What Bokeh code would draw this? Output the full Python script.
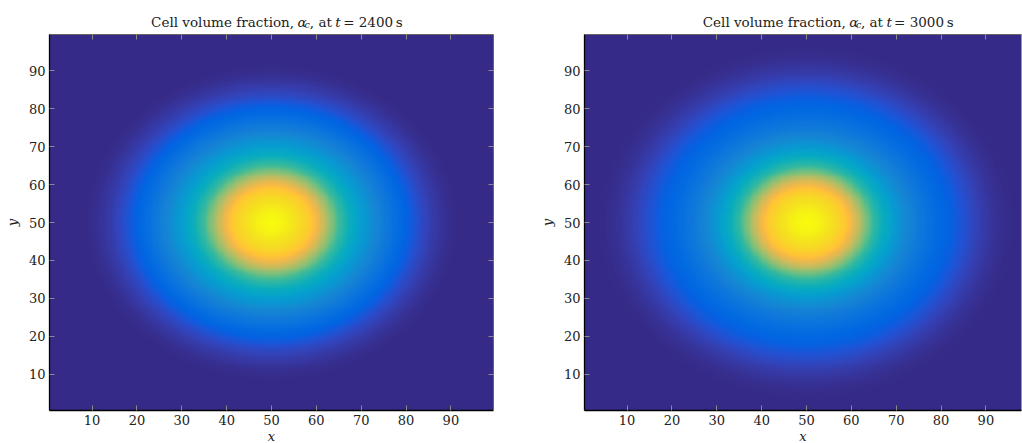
import numpy as np
from bokeh.plotting import figure
from bokeh.layouts import row, column
from bokeh.models import LinearColorMapper, FixedTicker, LinearAxis, Range1d
from bokeh.core.properties import value
from bokeh.embed import file_html
from bokeh.resources import INLINE

# Radial profiles of the cell volume fraction about the centre (50, 50)
radius = [0, 3.5, 6.5, 9, 11, 13, 15, 17.5, 20, 22.5, 25, 30, 33, 36, 39, 42, 45, 48, 75]
alpha_2400 = [1.0, 0.975, 0.925, 0.865, 0.77, 0.64, 0.52, 0.42, 0.34, 0.28, 0.22, 0.13,
              0.085, 0.045, 0.015, 0.0, 0.0, 0.0, 0.0]
alpha_3000 = [1.0, 0.975, 0.925, 0.86, 0.76, 0.62, 0.5, 0.4, 0.32, 0.26, 0.21, 0.145,
              0.115, 0.085, 0.05, 0.022, 0.006, 0.0, 0.0]
times = [2400, 3000]
centre = (50.0, 50.0)
tick_values = [10, 20, 30, 40, 50, 60, 70, 80, 90]

# parula colormap (64 entries), expanded to 256 colours
parula64 = np.array([
    [0.2081, 0.1663, 0.5292], [0.2116, 0.1898, 0.5777], [0.2123, 0.2138, 0.6270],
    [0.2081, 0.2386, 0.6771], [0.1959, 0.2645, 0.7279], [0.1707, 0.2919, 0.7792],
    [0.1253, 0.3242, 0.8303], [0.0591, 0.3598, 0.8683], [0.0117, 0.3875, 0.8820],
    [0.0060, 0.4086, 0.8828], [0.0165, 0.4266, 0.8786], [0.0329, 0.4430, 0.8720],
    [0.0498, 0.4586, 0.8641], [0.0629, 0.4737, 0.8554], [0.0723, 0.4887, 0.8467],
    [0.0779, 0.5040, 0.8384], [0.0793, 0.5200, 0.8312], [0.0749, 0.5375, 0.8263],
    [0.0641, 0.5570, 0.8240], [0.0488, 0.5772, 0.8228], [0.0343, 0.5966, 0.8199],
    [0.0265, 0.6137, 0.8135], [0.0239, 0.6287, 0.8038], [0.0231, 0.6418, 0.7913],
    [0.0228, 0.6535, 0.7768], [0.0267, 0.6642, 0.7607], [0.0384, 0.6743, 0.7436],
    [0.0590, 0.6838, 0.7254], [0.0843, 0.6928, 0.7062], [0.1133, 0.7015, 0.6859],
    [0.1453, 0.7098, 0.6646], [0.1801, 0.7177, 0.6424], [0.2178, 0.7250, 0.6193],
    [0.2586, 0.7317, 0.5954], [0.3022, 0.7376, 0.5712], [0.3482, 0.7424, 0.5473],
    [0.3953, 0.7459, 0.5244], [0.4420, 0.7481, 0.5033], [0.4871, 0.7491, 0.4840],
    [0.5300, 0.7491, 0.4661], [0.5709, 0.7485, 0.4494], [0.6099, 0.7473, 0.4337],
    [0.6473, 0.7456, 0.4188], [0.6834, 0.7435, 0.4044], [0.7184, 0.7411, 0.3905],
    [0.7525, 0.7384, 0.3768], [0.7858, 0.7356, 0.3633], [0.8185, 0.7327, 0.3498],
    [0.8507, 0.7299, 0.3360], [0.8824, 0.7274, 0.3217], [0.9139, 0.7258, 0.3063],
    [0.9450, 0.7261, 0.2886], [0.9739, 0.7314, 0.2666], [0.9938, 0.7455, 0.2403],
    [0.9990, 0.7653, 0.2164], [0.9955, 0.7861, 0.1967], [0.9880, 0.8066, 0.1794],
    [0.9789, 0.8271, 0.1633], [0.9697, 0.8481, 0.1475], [0.9626, 0.8705, 0.1309],
    [0.9589, 0.8949, 0.1132], [0.9598, 0.9218, 0.0948], [0.9661, 0.9514, 0.0755],
    [0.9763, 0.9831, 0.0538]])
pos64 = np.linspace(0, 1, 64)
pos256 = np.linspace(0, 1, 256)
rgb = np.stack([np.interp(pos256, pos64, parula64[:, k]) for k in range(3)], axis=1)
parula = ["#%02x%02x%02x" % tuple(int(round(v * 255)) for v in c) for c in rgb]

mapper = LinearColorMapper(palette=parula, low=0.0, high=1.0)

# fine grid of cell centres over the domain [0.5, 99.5]^2
n = 396
cx = 0.5 + (np.arange(n) + 0.5) * 99.0 / n
X, Y = np.meshgrid(cx, cx)
R = np.hypot(X - centre[0], Y - centre[1])

SERIF = "DejaVu Serif"
TEXT = "#222222"
PX_PER_UNIT = 444 / 99.0
STRIP_H = 33
PANEL_W = 511


def style_axis(ax, line_color, show_labels):
    ax.ticker = FixedTicker(ticks=tick_values)
    ax.major_tick_in = 5
    ax.major_tick_out = 0
    ax.minor_tick_in = 0
    ax.minor_tick_out = 0
    ax.major_tick_line_color = "#8a8a8a"
    ax.major_tick_line_width = 1
    ax.axis_line_color = line_color
    ax.axis_line_width = 1.3 if line_color == "black" else 1
    ax.major_label_text_font = SERIF
    ax.major_label_text_font_size = "13px"
    ax.major_label_text_color = TEXT
    if show_labels:
        ax.major_label_standoff = 4
    else:
        ax.major_label_standoff = 0
        ax.major_label_overrides = {v: "" for v in tick_values}


def title_strip(t, frame_centre):
    """Title line drawn as roman and italic text pieces above a panel."""
    s = figure(width=PANEL_W, height=STRIP_H, output_backend="svg", toolbar_location=None,
               x_range=Range1d(0, PANEL_W), y_range=Range1d(0, STRIP_H),
               min_border=0, x_axis_location=None, y_axis_location=None)
    s.grid.visible = False
    s.outline_line_color = None
    base_y = STRIP_H - 21
    fs = 13.5
    pieces = [
        ("Cell volume fraction,", 10.5, "right", "normal", fs, 0),
        ("\u03b1", 14.5, "left", "italic", fs, 0),
        ("c", 22.5, "left", "italic", 9.5, -3),
        (", at", 54.0, "right", "normal", fs, 0),
        ("t", 58.0, "left", "italic", fs, 0),
        ("= %d\u2009s" % t, 67.0, "left", "normal", fs, 0),
    ]
    for text, dx, align, style, size, dy in pieces:
        s.text(x=[frame_centre + dx], y=[base_y + dy], text=[text],
               text_font=value(SERIF), text_font_style=style,
               text_font_size="%gpx" % size, text_align=align,
               text_baseline="alphabetic", text_color=TEXT)
    return s


def panel(values, left_border, right_border, x_end, right_axis):
    p = figure(width=PANEL_W, height=443 - STRIP_H, output_backend="svg", toolbar_location=None,
               x_range=Range1d(0.5, x_end), y_range=Range1d(0.5, 99.5),
               min_border_left=left_border, min_border_right=right_border,
               min_border_top=1, min_border_bottom=33,
               frame_width=int(round((x_end - 0.5) * PX_PER_UNIT)), frame_height=376,
               x_axis_label="x", y_axis_label="y")
    p.grid.visible = False
    p.outline_line_color = None
    p.background_fill_color = "white"
    p.border_fill_color = "white"

    field = np.interp(R, radius, values)
    p.image(image=[field], x=0.5, y=0.5, dw=99, dh=99, color_mapper=mapper)

    for ax in p.xaxis + p.yaxis:
        style_axis(ax, "black", True)
        ax.axis_label_text_font = SERIF
        ax.axis_label_text_font_style = "italic"
        ax.axis_label_text_font_size = "13px"
        ax.axis_label_text_color = TEXT
    p.xaxis.axis_label_standoff = 1
    p.yaxis.axis_label_standoff = 6

    top = LinearAxis()
    style_axis(top, "#666666", False)
    p.add_layout(top, "above")
    if right_axis:
        rt = LinearAxis()
        style_axis(rt, "#666666", False)
        p.add_layout(rt, "right")
    return p


p1 = panel(alpha_2400, 49, 18, 99.5, True)
p2 = panel(alpha_3000, 73, 1, 0.5 + 437 / PX_PER_UNIT, False)
t1 = title_strip(times[0], 49 + 222)
t2 = title_strip(times[1], 73 + 222)

layout = row(column(t1, p1), column(t2, p2))
open("out.html", "w").write(file_html(layout, INLINE))
